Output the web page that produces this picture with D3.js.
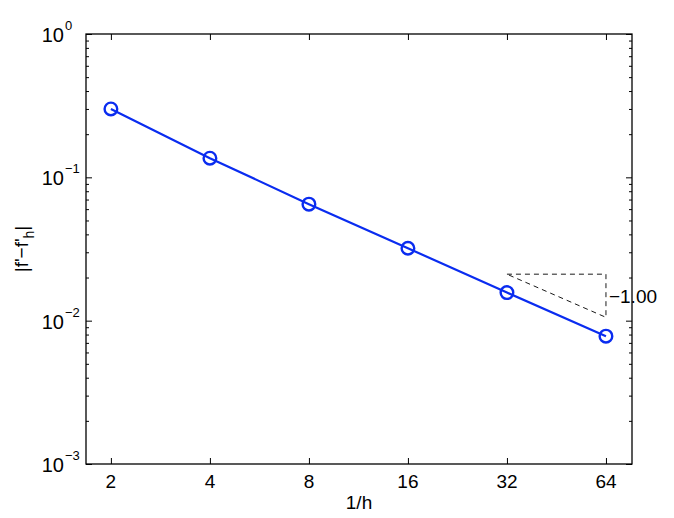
<!DOCTYPE html>
<html>
<head>
<meta charset="utf-8">
<script src="https://cdn.jsdelivr.net/npm/d3@7"></script>
<style>
  body { margin: 0; background: #fff; }
  svg text { font-family: "Liberation Sans", Arial, sans-serif; fill: #000; }
</style>
</head>
<body>
<svg id="chart" width="674" height="518"></svg>
<script>
// data
const invH = [2, 4, 8, 16, 32, 64];
const err = [0.30, 0.136, 0.065, 0.032, 0.0157, 0.0078];
const xTicks = [2, 4, 8, 16, 32, 64];
const yTickExp = [-3, -2, -1, 0];
// slope triangle: from 1/h=32 to 64, top at 0.0211
const triX = [32, 64];
const triTop = 0.0211;
const slopeLabel = '\u22121.00';

const margin = {left: 86, top: 34, right: 42, bottom: 54};
const width = 674 - margin.left - margin.right;
const height = 518 - margin.top - margin.bottom;

const svg = d3.select('#chart');
const g = svg.append('g')
  .attr('transform', `translate(${margin.left}, ${margin.top})`);

const sx = d3.scaleLog().base(2)
  .domain([1.68, 76.8])
  .range([0, width]);
const sy = d3.scaleLog()
  .domain([1e-3, 1])
  .range([height, 0]);

// minor y ticks (2..9 per decade)
const minorY = [];
for (let e = -3; e < 0; e++) {
  for (let k = 2; k <= 9; k++) minorY.push(k * Math.pow(10, e));
}

const yAxisL = d3.axisLeft(sy).tickValues(yTickExp.map(e => Math.pow(10, e)))
  .tickSize(-6).tickFormat('');
const yAxisR = d3.axisRight(sy).tickValues(yTickExp.map(e => Math.pow(10, e)))
  .tickSize(-6).tickFormat('');
const yMinL = d3.axisLeft(sy).tickValues(minorY).tickSize(-3).tickFormat('');
const yMinR = d3.axisRight(sy).tickValues(minorY).tickSize(-3).tickFormat('');
const xAxisB = d3.axisBottom(sx).tickValues(xTicks).tickSize(-6).tickFormat('');
const xAxisT = d3.axisTop(sx).tickValues(xTicks).tickSize(-6).tickFormat('');

g.append('g').attr('class', 'axis').call(yAxisL);
g.append('g').attr('class', 'axis').call(yMinL);
g.append('g').attr('class', 'axis').attr('transform', `translate(${width}, 0)`).call(yAxisR);
g.append('g').attr('class', 'axis').attr('transform', `translate(${width}, 0)`).call(yMinR);
g.append('g').attr('class', 'axis').attr('transform', `translate(0, ${height})`).call(xAxisB);
g.append('g').attr('class', 'axis').call(xAxisT);

g.selectAll('.axis path.domain').remove();
g.selectAll('.axis line').attr('stroke', '#000').attr('stroke-width', 1);

// box
g.append('rect')
  .attr('x', 0).attr('y', 0)
  .attr('width', width).attr('height', height)
  .attr('fill', 'none')
  .attr('stroke', '#000')
  .attr('stroke-width', 1.3);

// x tick labels
g.selectAll('.xlab')
  .data(xTicks)
  .enter().append('text')
  .attr('class', 'xlab')
  .attr('x', d => sx(d))
  .attr('y', height + 24)
  .attr('text-anchor', 'middle')
  .style('font-size', '19px')
  .text(d => d);

// y tick labels 10^e
g.selectAll('.ylab')
  .data(yTickExp)
  .enter().append('text')
  .attr('class', 'ylab')
  .attr('x', -22)
  .attr('y', d => sy(Math.pow(10, d)) + 8)
  .attr('text-anchor', 'end')
  .style('font-size', '20px')
  .text('10');
g.selectAll('.yexp')
  .data(yTickExp)
  .enter().append('text')
  .attr('class', 'yexp')
  .attr('x', -21)
  .attr('y', d => sy(Math.pow(10, d)) - 4)
  .style('font-size', '13px')
  .text(d => d < 0 ? '\u2212' + (-d) : d);

// axis titles
g.append('text')
  .attr('x', width / 2)
  .attr('y', height + 45)
  .attr('text-anchor', 'middle')
  .style('font-size', '19px')
  .text('1/h');

const yt = svg.append('text')
  .attr('transform', `translate(28, ${margin.top + height / 2}) rotate(-90)`)
  .attr('text-anchor', 'middle')
  .style('font-size', '19px');
yt.append('tspan').text('|f\'\u2212f\'');
yt.append('tspan').attr('dy', 6).style('font-size', '14px').text('h');
yt.append('tspan').attr('dy', -6).text('|');

// data line
const blue = '#0a2cf0';
const line = d3.line()
  .x((d, i) => sx(invH[i]))
  .y(d => sy(d));

g.append('path')
  .datum(err)
  .attr('d', line)
  .attr('fill', 'none')
  .attr('stroke', blue)
  .attr('stroke-width', 2.2);

g.selectAll('.pt')
  .data(err)
  .enter().append('circle')
  .attr('class', 'pt')
  .attr('cx', (d, i) => sx(invH[i]))
  .attr('cy', d => sy(d))
  .attr('r', 6.3)
  .attr('fill', 'none')
  .attr('stroke', blue)
  .attr('stroke-width', 2.4);

// slope triangle
const triBot = triTop * Math.pow(triX[0] / triX[1], 1);
const tri = [[triX[0], triTop], [triX[1], triTop], [triX[1], triBot], [triX[0], triTop]];
g.append('path')
  .attr('d', d3.line().x(d => sx(d[0])).y(d => sy(d[1]))(tri))
  .attr('fill', 'none')
  .attr('stroke', '#000')
  .attr('stroke-width', 0.9)
  .attr('stroke-dasharray', '5,4');

g.append('text')
  .attr('x', sx(triX[1]) + 3)
  .attr('y', (sy(triTop) + sy(triBot)) / 2 + 7)
  .style('font-size', '19px')
  .text(slopeLabel);
</script>
</body>
</html>
